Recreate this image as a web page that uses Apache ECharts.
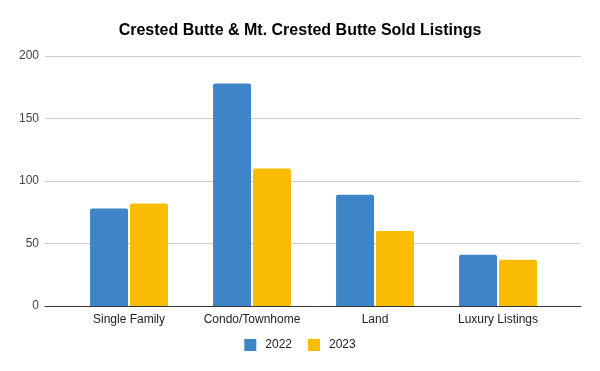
<!DOCTYPE html>
<html><head><meta charset="utf-8">
<script src="https://cdn.jsdelivr.net/npm/echarts@6/dist/echarts.min.js"></script>
<style>html,body{margin:0;padding:0;background:#fff}#c{width:600px;height:371px}</style>
</head><body><div id="c"></div>
<script>
const categories = ['Single Family', 'Condo/Townhome', 'Land', 'Luxury Listings'];
const seriesNames = ['2022', '2023'];
const values2022 = [78, 178, 89, 41];
const values2023 = [82, 110, 60, 37];
const yTicks = [0, 50, 100, 150, 200];

const chart = echarts.init(document.getElementById('c'));
const font = 'Liberation Sans, Arial, sans-serif';
chart.setOption({
  animation: false,
  backgroundColor: '#fff',
  title: {
    text: 'Crested Butte & Mt. Crested Butte Sold Listings',
    left: 'center', top: 18,
    textStyle: { fontFamily: font, fontSize: 16, fontWeight: 'bold', color: '#000' }
  },
  legend: {
    bottom: 15, left: 'center',
    itemWidth: 12, itemHeight: 12, itemGap: 16,
    icon: 'rect',
    textStyle: { fontFamily: font, fontSize: 12, color: '#222', padding: [0, 0, 0, 4] },
    data: seriesNames
  },
  grid: [
    { left: 45, right: 19, top: 56, bottom: 65 },
    { left: 67.5, right: 40.5, top: 56, bottom: 65 }
  ],
  xAxis: [
    { gridIndex: 0, type: 'value', min: 0, max: 1,
      axisLine: { show: true, onZero: false, lineStyle: { color: '#333', width: 1 } },
      axisTick: { show: false }, axisLabel: { show: false }, splitLine: { show: false } },
    { gridIndex: 1, type: 'category', data: categories,
      axisLine: { show: false }, axisTick: { show: false },
      axisLabel: { interval: 0, fontFamily: font, fontSize: 12, color: '#222', margin: 8 } }
  ],
  yAxis: [
    { gridIndex: 0, type: 'value', min: yTicks[0], max: yTicks[yTicks.length - 1], interval: 50,
      axisLine: { show: false }, axisTick: { show: false },
      axisLabel: { fontFamily: font, fontSize: 12, color: '#444', margin: 6 },
      splitLine: { lineStyle: { color: '#cccccc' } } },
    { gridIndex: 1, type: 'value', min: 0, max: 200, show: false }
  ],
  series: [
    { name: seriesNames[0], type: 'bar', xAxisIndex: 1, yAxisIndex: 1, data: values2022,
      barWidth: 38, barGap: '5%',
      itemStyle: { color: '#3d85c6', borderRadius: [2, 2, 0, 0] } },
    { name: seriesNames[1], type: 'bar', xAxisIndex: 1, yAxisIndex: 1, data: values2023,
      barWidth: 38, barGap: '5%',
      itemStyle: { color: '#fbbc04', borderRadius: [2, 2, 0, 0] } }
  ]
});
</script></body></html>
